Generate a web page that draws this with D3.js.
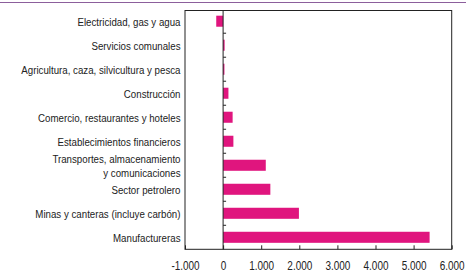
<!DOCTYPE html>
<html>
<head>
<meta charset="utf-8">
<script src="https://cdn.jsdelivr.net/npm/d3@7"></script>
<style>
  body { margin: 0; background: #fff; }
  text { font-family: "Liberation Sans", Arial, sans-serif; fill: #222; }
</style>
</head>
<body>
<div id="chart"></div>
<script>
const categories = [
  "Electricidad, gas y agua",
  "Servicios comunales",
  "Agricultura, caza, silvicultura y pesca",
  "Construcción",
  "Comercio, restaurantes y hoteles",
  "Establecimientos financieros",
  "Transportes, almacenamiento\ny comunicaciones",
  "Sector petrolero",
  "Minas y canteras (incluye carbón)",
  "Manufactureras"
];
const values = [-180, 40, 35, 140, 250, 270, 1120, 1240, 1990, 5420];
const xTicks = [-1000, 0, 1000, 2000, 3000, 4000, 5000, 6000];

const W = 466, H = 273;
const plotLeft = 185, plotRight = 451.7, plotTop = 10.5, plotBottom = 249.3;
const narrow = 0.83; // the original uses a condensed face; squeeze Liberation Sans

const svg = d3.select("#chart").append("svg")
  .attr("width", W)
  .attr("height", H);

// thin purple rule at the very top
svg.append("line")
  .attr("x1", 0).attr("x2", W)
  .attr("y1", 2.5).attr("y2", 2.5)
  .attr("stroke", "#8c5f9c")
  .attr("stroke-width", 1.2);

const x = d3.scaleLinear().domain([-1000, 6000]).range([plotLeft, plotRight]);
const y = d3.scaleBand().domain(categories).range([9.2, plotBottom]).paddingInner(0.54).paddingOuter(0.27);

const fmt = d3.formatLocale({ decimal: ",", thousands: ".", grouping: [3], currency: ["", ""], minus: "-" }).format(",d");

// frame
svg.append("rect")
  .attr("x", plotLeft).attr("y", plotTop)
  .attr("width", plotRight - plotLeft).attr("height", plotBottom - plotTop)
  .attr("fill", "none")
  .attr("stroke", "#222")
  .attr("stroke-width", 1);

// bars
svg.append("g").selectAll("rect")
  .data(values)
  .join("rect")
  .attr("x", d => x(Math.min(0, d)))
  .attr("width", d => Math.abs(x(d) - x(0)))
  .attr("y", (d, i) => y(categories[i]))
  .attr("height", y.bandwidth())
  .attr("fill", "#e0157e");

// bottom axis, ticks pointing inward
const xAxis = svg.append("g")
  .attr("transform", `translate(0,${plotBottom})`)
  .call(d3.axisBottom(x).tickValues(xTicks).tickSize(-4).tickPadding(12).tickFormat(fmt));
xAxis.select(".domain").remove();
xAxis.selectAll("line").attr("stroke", "#222");
xAxis.selectAll("text")
  .style("font-size", "12px")
  .attr("fill", "#222")
  .attr("transform", `scale(${narrow},1)`);

// zero line
svg.append("line")
  .attr("x1", x(0)).attr("x2", x(0))
  .attr("y1", plotTop).attr("y2", plotBottom)
  .attr("stroke", "#222")
  .attr("stroke-width", 1);

// small ticks between categories on the zero line
const step = y.step();
svg.append("g").selectAll("line")
  .data(categories.slice(1))
  .join("line")
  .attr("x1", x(0)).attr("x2", x(0) + 3)
  .attr("y1", d => y(d) - (step - y.bandwidth()) / 2)
  .attr("y2", d => y(d) - (step - y.bandwidth()) / 2)
  .attr("stroke", "#222");

// category labels
const labels = svg.append("g").selectAll("text")
  .data(categories)
  .join("text")
  .attr("transform", d => `translate(180.5,${y(d) + y.bandwidth() / 2}) scale(${narrow},1)`)
  .attr("text-anchor", "end")
  .style("font-size", "11.7px");
labels.each(function(d) {
  const lines = d.split("\n");
  const t = d3.select(this);
  lines.forEach((s, j) => {
    t.append("tspan")
      .attr("x", 0)
      .attr("dy", j === 0 ? (0.38 - (lines.length - 1) * 0.585) + "em" : "1.17em")
      .text(s);
  });
});
</script>
</body>
</html>
